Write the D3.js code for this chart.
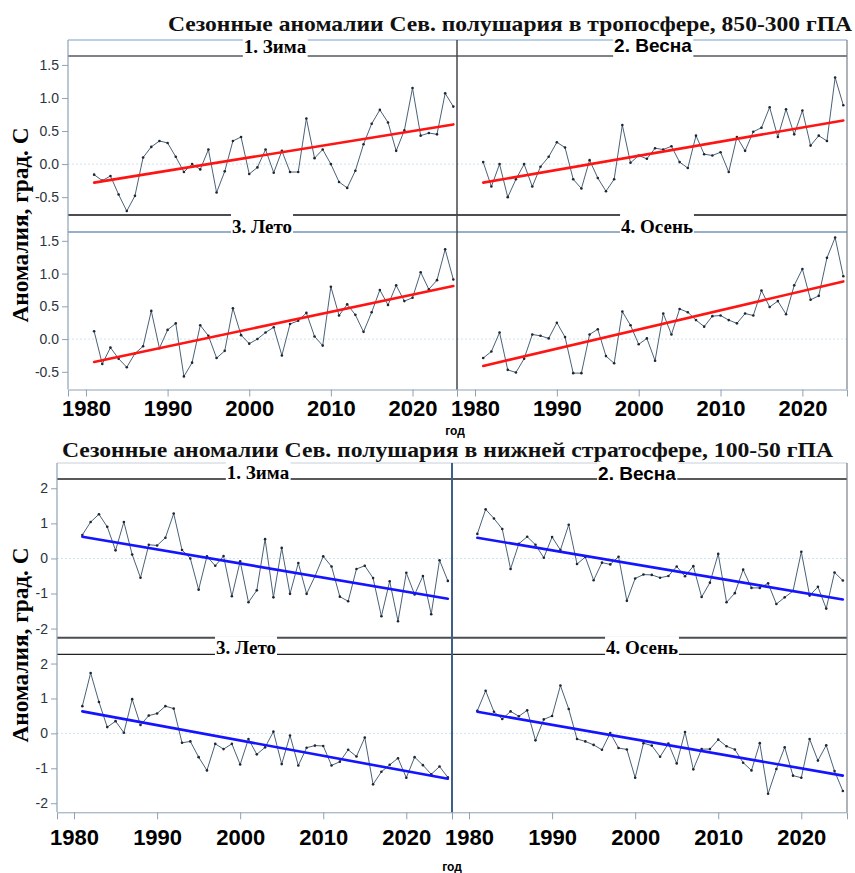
<!DOCTYPE html>
<html><head><meta charset="utf-8">
<script src="https://cdn.jsdelivr.net/npm/d3@7"></script>
<style>body{margin:0;background:#fff}svg{display:block}</style>
</head><body><svg id="c" width="855" height="873"></svg>
<script>
const years = [1981,1982,1983,1984,1985,1986,1987,1988,1989,1990,1991,1992,1993,1994,1995,1996,1997,1998,1999,2000,
  2001,2002,2003,2004,2005,2006,2007,2008,2009,2010,2011,2012,2013,2014,2015,2016,2017,2018,2019,2020,2021,2022,2023,2024,2025];

const seasonLabels = ["1. Зима","2. Весна","3. Лето","4. Осень"];
const tropTitle = "Сезонные аномалии Сев. полушария в тропосфере, 850-300 гПА";
const stratTitle = "Сезонные аномалии Сев. полушария в нижней стратосфере, 100-50 гПА";
const yAxisTitle = "Аномалия, град. С";
const xAxisTitle = "год";
const xTickValues = [1980,1990,2000,2010,2020];
const tropYTicks = [-0.5,0,0.5,1.0,1.5];
const stratYTicks = [-2,-1,0,1,2];

const tropWinter = [-0.16,-0.25,-0.18,-0.46,-0.71,-0.48,0.10,0.26,0.35,0.32,0.11,-0.12,0.00,-0.08,0.22,-0.43,-0.11,0.35,0.41,-0.15,
  -0.05,0.22,-0.13,0.20,-0.12,-0.12,0.69,0.09,0.22,0.00,-0.27,-0.36,-0.10,0.30,0.61,0.82,0.63,0.20,0.51,1.15,0.43,0.47,0.45,1.07,0.87];
const tropSpring = [0.03,-0.34,0.00,-0.50,-0.23,0.00,-0.34,-0.04,0.11,0.33,0.25,-0.23,-0.37,0.06,-0.21,-0.41,-0.23,0.59,0.02,0.13,
  0.08,0.24,0.22,0.27,0.03,-0.06,0.43,0.15,0.13,0.18,-0.12,0.41,0.20,0.49,0.55,0.86,0.41,0.83,0.45,0.81,0.28,0.43,0.35,1.31,0.89];
const tropSummer = [0.12,-0.38,-0.13,-0.30,-0.43,-0.22,-0.11,0.43,-0.14,0.14,0.24,-0.57,-0.36,0.21,0.05,-0.29,-0.18,0.47,0.06,-0.07,
  0.00,0.10,0.18,-0.25,0.23,0.28,0.40,0.04,-0.10,0.80,0.36,0.53,0.37,0.11,0.41,0.75,0.52,0.82,0.58,0.63,1.02,0.76,0.90,1.37,0.91];
const tropAutumn = [-0.29,-0.19,0.10,-0.47,-0.51,-0.30,0.07,0.05,0.01,0.25,0.03,-0.52,-0.52,0.07,0.15,-0.26,-0.37,0.42,0.21,-0.08,
  0.01,-0.33,0.39,0.07,0.46,0.41,0.29,0.19,0.35,0.36,0.29,0.24,0.39,0.36,0.74,0.49,0.58,0.38,0.82,1.07,0.60,0.66,1.24,1.55,0.96];

const stratWinter = [0.67,1.04,1.26,0.90,0.23,1.04,0.11,-0.55,0.39,0.37,0.59,1.28,0.24,0.00,-0.89,0.06,-0.21,0.07,-1.08,-0.08,
  -1.25,-0.91,0.55,-1.11,0.30,-1.01,-0.13,-1.01,-0.51,0.06,-0.23,-1.09,-1.22,-0.30,-0.21,-0.56,-1.65,-0.65,-1.79,-0.41,-1.03,-0.50,-1.59,-0.05,-0.64];
const stratSpring = [0.70,1.40,1.14,0.84,-0.30,0.42,0.62,0.39,0.02,0.61,0.24,0.96,-0.16,0.04,-0.62,-0.12,-0.17,0.05,-1.21,-0.57,
  -0.46,-0.47,-0.55,-0.50,-0.23,-0.51,-0.22,-1.10,-0.69,0.13,-1.25,-0.99,-0.32,-0.84,-0.84,-0.71,-1.30,-1.11,-0.93,0.19,-1.06,-0.81,-1.43,-0.40,-0.63];
const stratSummer = [0.78,1.73,0.90,0.18,0.35,0.02,0.98,0.24,0.51,0.57,0.78,0.71,-0.27,-0.23,-0.68,-1.06,-0.30,-0.45,-0.30,-0.89,
  -0.16,-0.60,-0.40,0.05,-0.88,-0.06,-0.92,-0.41,-0.35,-0.36,-0.92,-0.81,-0.47,-0.66,-0.12,-1.46,-1.10,-0.90,-0.71,-1.27,-0.68,-0.91,-1.17,-0.95,-1.26];
const stratAutumn = [0.65,1.22,0.62,0.41,0.63,0.49,0.66,-0.20,0.40,0.50,1.37,0.70,-0.16,-0.23,-0.33,-0.47,0.01,-0.42,-0.46,-1.27,
  -0.28,-0.35,-0.67,-0.29,-0.86,0.04,-1.03,-0.45,-0.45,-0.18,-0.37,-0.46,-0.84,-1.06,-0.28,-1.73,-1.02,-0.40,-1.21,-1.27,-0.16,-0.78,-0.34,-1.08,-1.65];

// trend line values at first and last year
const tropTrends = [[-0.28,0.60],[-0.28,0.66],[-0.35,0.81],[-0.41,0.88]];
const stratTrends = [[0.62,-1.15],[0.59,-1.17],[0.63,-1.30],[0.62,-1.21]];

const svg = d3.select("#c");

function drawChart(cfg) {
  const g = svg.append("g");
  g.append("text").attr("x", cfg.title.x).attr("y", cfg.title.y)
    .attr("textLength", cfg.title.len).attr("lengthAdjust","spacingAndGlyphs")
    .style("font-family","'Liberation Serif','Times New Roman',serif").style("font-weight","bold")
    .style("font-size", cfg.title.size+"px").attr("fill","#111").text(cfg.title.text);

  const series = cfg.series;
  for (let i = 0; i < 4; i++) {
    const r = Math.floor(i/2), c = i%2;
    const col = cfg.cols[c], row = cfg.rows[r];
    const x = d3.scaleLinear().domain(cfg.xDomain).range(col);
    const y = d3.scaleLinear().domain(cfg.yDomain).range([row.bottom, row.plotTop]);
    const p = g.append("g");
    p.append("line").attr("x1", col[0]).attr("x2", col[1]).attr("y1", y(0)).attr("y2", y(0))
      .attr("stroke", "#cfe3ef").attr("stroke-width",1).attr("stroke-dasharray","2,2");
    const pts = years.map((yr,k)=>[yr, series[i][k]]);
    p.append("path").datum(pts)
      .attr("d", d3.line().x(d=>x(d[0])).y(d=>y(d[1])))
      .attr("fill","none").attr("stroke","#4a6278").attr("stroke-width",1);
    p.selectAll("circle").data(pts).join("circle")
      .attr("cx", d=>x(d[0])).attr("cy", d=>y(d[1])).attr("r",1.3).attr("fill","#1e2630");
    const tr = cfg.trends[i];
    p.append("line").attr("x1", x(years[0])).attr("x2", x(years[years.length-1]))
      .attr("y1", y(tr[0])).attr("y2", y(tr[1]))
      .attr("stroke", cfg.trendColor).attr("stroke-width", 2.6).attr("stroke-linecap","round");
    if (c === 0) {
      const ax = d3.axisLeft(y).tickValues(cfg.yTicks).tickFormat(cfg.yFormat).tickSize(6).tickPadding(3);
      const ga = p.append("g").attr("transform", `translate(${col[0]},0)`).call(ax);
      ga.select(".domain").remove();
      ga.selectAll(".tick line").attr("stroke", "#8ea2b6");
      ga.selectAll(".tick text").style("font-family","'Liberation Sans',Arial,sans-serif")
        .style("font-size","14px").attr("fill","#2c3440");
    }
    if (r === 1) {
      const ax = d3.axisBottom(x).tickValues(xTickValues).tickFormat(d => String(d)).tickSize(7).tickPadding(cfg.xPad);
      const ga = p.append("g").attr("transform", `translate(0,${row.bottom})`).call(ax);
      ga.select(".domain").attr("stroke","#8ea2b6");
      ga.selectAll(".tick line").attr("stroke", "#8ea2b6");
      ga.selectAll(".tick text").style("font-family","'Liberation Sans',Arial,sans-serif")
        .style("font-weight","bold").style("font-size","22px").attr("fill","#000");
    }
    p.append("line").attr("x1", col[0]).attr("x2", col[1]).attr("y1", row.stripTop).attr("y2", row.stripTop)
      .attr("stroke", row.topColor).attr("stroke-width", row.topWidth);
    p.append("line").attr("x1", col[0]).attr("x2", col[1]).attr("y1", row.plotTop).attr("y2", row.plotTop)
      .attr("stroke", row.botColor).attr("stroke-width", row.botWidth);
    const lab = cfg.labels[i];
    const bg = p.append("rect").attr("fill","#fff");
    const t = p.append("text").attr("x", lab.x).attr("y", lab.y).attr("text-anchor","middle")
      .style("font-family", lab.sans ? "'Liberation Sans',Arial,sans-serif" : "'Liberation Serif','Times New Roman',serif")
      .style("font-weight","bold").style("font-size", lab.size+"px").attr("fill","#000").text(seasonLabels[i]);
    const bb = t.node().getBBox();
    bg.attr("x", bb.x-1).attr("width", bb.width+2)
      .attr("y", row.stripTop-1.5).attr("height", row.plotTop-row.stripTop+3);
  }
  const top = cfg.rows[0].stripTop, bot = cfg.rows[1].bottom;
  g.append("line").attr("x1", cfg.cols[0][0]).attr("x2", cfg.cols[0][0]).attr("y1", top).attr("y2", bot)
    .attr("stroke","#8ea2b6").attr("stroke-width",1.2);
  g.append("line").attr("x1", cfg.cols[1][1]).attr("x2", cfg.cols[1][1]).attr("y1", top).attr("y2", bot)
    .attr("stroke","#7a7f86").attr("stroke-width",1.2);
  g.append("line").attr("x1", cfg.cols[1][0]).attr("x2", cfg.cols[1][0]).attr("y1", top).attr("y2", bot)
    .attr("stroke", cfg.divColor).attr("stroke-width", cfg.divWidth);
  g.append("text").attr("transform", `translate(${cfg.yTitle.x},${cfg.yTitle.y}) rotate(-90)`)
    .attr("text-anchor","middle").attr("textLength", cfg.yTitle.len).attr("lengthAdjust","spacingAndGlyphs")
    .style("font-family","'Liberation Serif','Times New Roman',serif").style("font-weight","bold")
    .style("font-size","23px").attr("fill","#000").text(yAxisTitle);
  g.append("text").attr("x", cfg.xTitle.x).attr("y", cfg.xTitle.y).attr("text-anchor","middle")
    .style("font-family","'Liberation Sans',Arial,sans-serif").style("font-weight","bold")
    .style("font-size","12px").attr("fill","#000").text(xAxisTitle);
}

drawChart({
  title: {text: tropTitle, x: 168, y: 31, len: 684, size: 21},
  cols: [[68,457],[457,847]],
  rows: [
    {stripTop: 40, plotTop: 56, bottom: 215, topColor:"#78a2cf", topWidth:1.2, botColor:"#555a60", botWidth:1.5},
    {stripTop: 215, plotTop: 232, bottom: 389.5, topColor:"#4a4d52", topWidth:1.8, botColor:"#7496b8", botWidth:1.3}
  ],
  xDomain: [1977.8, 2025.45],
  yDomain: [-0.77, 1.635],
  yTicks: tropYTicks, yFormat: d => d.toFixed(1),
  xPad: 3.5,
  series: [tropWinter, tropSpring, tropSummer, tropAutumn],
  trends: tropTrends, trendColor: "#ff1414",
  labels: [{x:275,y:53,size:19},{x:653,y:52,size:19,sans:true},{x:262,y:233,size:19},{x:657,y:233,size:19}],
  divColor: "#44474c", divWidth: 1.5,
  yTitle: {x: 28, y: 225, len: 195},
  xTitle: {x: 455, y: 434.5}
});

drawChart({
  title: {text: stratTitle, x: 62, y: 456.5, len: 771, size: 20},
  cols: [[57,452],[452,847]],
  rows: [
    {stripTop: 463, plotTop: 479, bottom: 637.7, topColor:"#c8d0d8", topWidth:1, botColor:"#222", botWidth:1.4},
    {stripTop: 637.7, plotTop: 654.3, bottom: 812.3, topColor:"#4a4d52", topWidth:2, botColor:"#222", botWidth:1.3}
  ],
  xDomain: [1977.95, 2025.5],
  yDomain: [-2.26, 2.265],
  yTicks: stratYTicks, yFormat: d => String(d),
  xPad: 10.5,
  series: [stratWinter, stratSpring, stratSummer, stratAutumn],
  trends: stratTrends, trendColor: "#1414ff",
  labels: [{x:258,y:479,size:19},{x:637,y:480,size:19,sans:true},{x:246,y:654,size:19},{x:642,y:654,size:19}],
  divColor: "#3d5f88", divWidth: 2,
  yTitle: {x: 28, y: 645, len: 195},
  xTitle: {x: 452, y: 871}
});
</script>
</body></html>
